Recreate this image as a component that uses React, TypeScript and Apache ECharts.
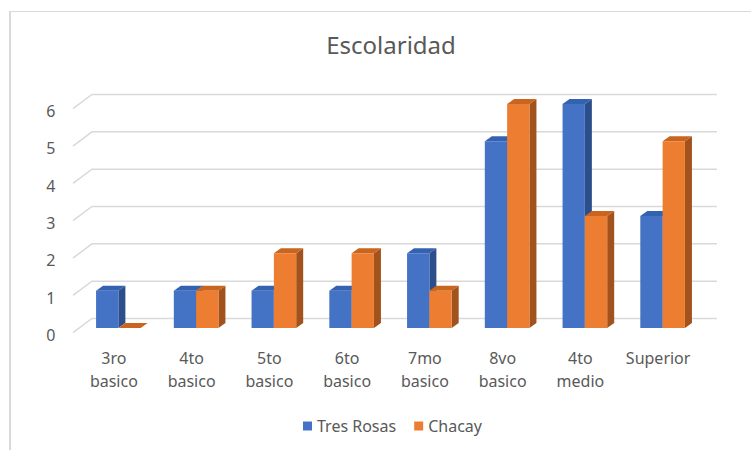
import React, { useEffect, useRef } from "react";
import * as echarts from "echarts";

const categories = ["3ro\nbasico", "4to\nbasico", "5to\nbasico", "6to\nbasico", "7mo\nbasico", "8vo\nbasico", "4to\nmedio", "Superior"];
const tresRosas = [1, 1, 1, 1, 2, 5, 6, 3];
const chacay = [0, 1, 2, 2, 1, 6, 3, 5];
const yTicks = [0, 1, 2, 3, 4, 5, 6];
const seriesNames = ["Tres Rosas", "Chacay"];

const palette = [
  { front: "#4472C4", side: "#2C4F8C", top: "#3562B0" },
  { front: "#ED7D31", side: "#A2521D", top: "#C9651F" },
];

const DX = 7;
const DY = -5;
const FONT = "Noto Sans";

function makeBarRender(idx: number) {
  return (params: any, api: any) => {
    const cat = api.value(0);
    const v = api.value(1);
    const base = api.coord([cat, 0]);
    const top = api.coord([cat, v]);
    const band = api.size([1, 0])[0];
    const w = band * 0.287;
    const x0 = idx === 0 ? base[0] - w : base[0];
    const x1 = x0 + w;
    const yb = base[1];
    const yt = top[1];
    const c = palette[idx];
    return {
      type: "group",
      children: [
        {
          type: "polygon",
          shape: { points: [[x1, yb], [x1 + DX, yb + DY], [x1 + DX, yt + DY], [x1, yt]] },
          style: { fill: c.side },
        },
        {
          type: "polygon",
          shape: { points: [[x0, yt], [x1, yt], [x1 + DX, yt + DY], [x0 + DX, yt + DY]] },
          style: { fill: c.top },
        },
        {
          type: "rect",
          shape: { x: x0, y: yt, width: w, height: yb - yt },
          style: { fill: c.front },
        },
      ],
    };
  };
}

function renderGrid(params: any, api: any) {
  const cs = params.coordSys;
  const y = api.coord([0, api.value(1)])[1];
  const L = cs.x;
  const R = cs.x + cs.width;
  return {
    type: "polyline",
    shape: { points: [[L - 6.5, y + 4.7], [L + 12.5, y - 9.5], [R + 15.5, y - 9.5]] },
    style: { stroke: "#D9D9D9", lineWidth: 1.5, fill: "none" },
  };
}

export default function App() {
  const ref = useRef<HTMLDivElement>(null);
  useEffect(() => {
    if (!ref.current) return;
    const chart = echarts.init(ref.current, undefined, { renderer: "svg" });
    chart.setOption({
      animation: false,
      backgroundColor: "#ffffff",
      title: {
        text: "Escolaridad",
        left: 386,
        textAlign: "center",
        top: 27,
        textStyle: { fontFamily: FONT, fontSize: 24, fontWeight: "normal", color: "#595959" },
      },
      legend: {
        data: seriesNames,
        left: 298,
        top: 413,
        itemWidth: 9,
        itemHeight: 9,
        itemGap: 18,
        icon: "rect",
        textStyle: { fontFamily: FONT, fontSize: 16, color: "#595959" },
      },
      grid: { left: 79.5, right: 49.5, top: 104, bottom: 122 },
      xAxis: {
        type: "category",
        data: categories,
        axisLine: { show: false },
        axisTick: { show: false },
        splitLine: { show: false },
        axisLabel: {
          fontFamily: FONT,
          fontSize: 16,
          lineHeight: 23,
          color: "#595959",
          margin: 18,
          padding: [0, 9, 0, 0],
          interval: 0,
        },
      },
      yAxis: {
        type: "value",
        min: 0,
        max: 6,
        interval: 1,
        axisLine: { show: false },
        axisTick: { show: false },
        splitLine: { show: false },
        axisLabel: {
          fontFamily: FONT,
          fontSize: 16,
          color: "#595959",
          margin: 24,
          verticalAlign: "top",
          lineHeight: 14,
        },
      },
      graphic: [
        { type: "line", shape: { x1: 10, y1: 11, x2: 10, y2: 460 }, style: { stroke: "#D9D9D9", lineWidth: 2 } },
        { type: "line", shape: { x1: 9, y1: 11.5, x2: 760, y2: 11.5 }, style: { stroke: "#D9D9D9", lineWidth: 1 } },
      ],
      series: [
        {
          type: "custom",
          name: "gridlines",
          renderItem: renderGrid,
          data: yTicks.map((v) => [0, v]),
          z: 1,
          clip: false,
          silent: true,
        },
        {
          type: "custom",
          name: seriesNames[0],
          renderItem: makeBarRender(0),
          data: tresRosas.map((v, i) => [i, v]),
          itemStyle: { color: palette[0].front },
          z: 2,
          clip: false,
        },
        {
          type: "custom",
          name: seriesNames[1],
          renderItem: makeBarRender(1),
          data: chacay.map((v, i) => [i, v]),
          itemStyle: { color: palette[1].front },
          z: 3,
          clip: false,
        },
      ],
    });
    return () => chart.dispose();
  }, []);
  return <div ref={ref} style={{ position: "fixed", left: 0, top: 0, width: 751, height: 450 }} />;
}
